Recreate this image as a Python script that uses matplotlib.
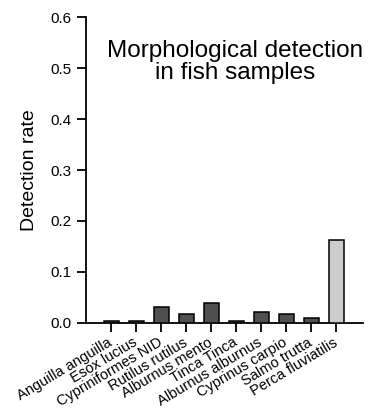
import matplotlib
matplotlib.use("Agg")
import matplotlib.pyplot as plt

plt.rcParams['font.family'] = ['Liberation Sans', 'DejaVu Sans']

species = ["Anguilla anguilla", "Esox lucius", "Cypriniformes NID", "Rutilus rutilus",
           "Alburnus mento", "Tinca Tinca", "Alburnus alburnus", "Cyprinus carpio",
           "Salmo trutta", "Perca fluviatilis"]
rates = [0.004, 0.004, 0.030, 0.017, 0.038, 0.004, 0.021, 0.017, 0.0085, 0.163]
colors = ["#505050"] * 9 + ["#cccccc"]

fig = plt.figure(figsize=(3.7, 4.11), dpi=100)
ax = fig.add_axes([86/370, 1 - 322.7/411, (363-86)/370, (322.7-17.3)/411])

x = list(range(len(species)))
ax.bar(x, rates, width=0.6, color=colors, edgecolor="black", linewidth=1.1, zorder=3)

ax.set_xlim(-1, 10.08)
ax.set_ylim(0, 0.6)
ax.set_yticks([0.0, 0.1, 0.2, 0.3, 0.4, 0.5, 0.6])
ax.set_yticklabels(["0.0", "0.1", "0.2", "0.3", "0.4", "0.5", "0.6"], fontsize=11)
ax.set_xticks(x)
ax.set_xticklabels(species, fontsize=10.5, rotation=31, ha="right", va="center",
                   rotation_mode="anchor")
ax.tick_params(axis="both", direction="out", length=6.5, width=1.3, color="black")
ax.tick_params(axis="y", pad=4)
ax.tick_params(axis="x", pad=7)

for s in ["top", "right"]:
    ax.spines[s].set_visible(False)
for s in ["left", "bottom"]:
    ax.spines[s].set_linewidth(1.3)

ax.set_ylabel("Detection rate", fontsize=14, labelpad=9)
ax.text(0.538, 0.854, "Morphological detection\nin fish samples", transform=ax.transAxes,
        ha="center", va="center", fontsize=17.5, linespacing=1.0)

fig.savefig("out.png", dpi=100)
